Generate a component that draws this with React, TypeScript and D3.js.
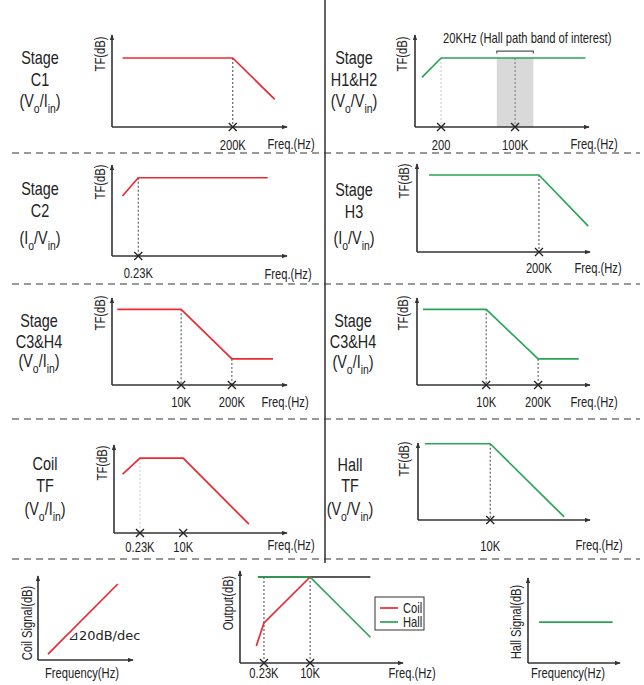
import React from 'react';
import * as d3 from 'd3';

// schematic units: x = position along the frequency axis (0-100), y = level (0-100)
const c1Freq = [6, 69, 93];
const c1Gain = [75, 75, 30];
const h12Freq = [4, 15, 98];
const h12Gain = [54, 75, 75];
const c2Freq = [6, 15, 89];
const c2Gain = [66, 86, 86];
const h3Freq = [7, 70.5, 99];
const h3Gain = [87.5, 87.5, 29.5];
const c3Freq = [3, 39.5, 68.5, 92];
const c3Gain = [87, 87, 30, 30];
const h4Freq = [3.5, 40, 70, 93.5];
const h4Gain = [87, 87, 30, 30];
const coilFreq = [5, 15, 40, 78];
const coilGain = [67, 85, 85, 10];
const hallFreq = [4, 42, 85];
const hallGain = [99, 99, 4];
const coilSigFreq = [10.5, 84];
const coilSigGain = [7, 90.5];
const outCoilFreq = [10, 14.7, 43];
const outCoilGain = [18.5, 43.5, 93.5];
const outHallFreq = [11, 43, 80];
const outHallGain = [93.5, 93.5, 28];
const outRefFreq = [11, 80];
const outRefGain = [93.5, 93.5];
const hallSigFreq = [12, 92];
const hallSigGain = [48, 48];

// tick marks (x) and their labels
const c1Ticks = [69];
const c1TickLabels = ['200K'];
const h12Ticks = [15, 57.5];
const h12TickLabels = ['200', '100K'];
const h12Band = [47, 68];
const c2Ticks = [15];
const c2TickLabels = ['0.23K'];
const h3Ticks = [70.5];
const h3TickLabels = ['200K'];
const c3Ticks = [39.5, 68.5];
const c3TickLabels = ['10K', '200K'];
const h4Ticks = [40, 70];
const h4TickLabels = ['10K', '200K'];
const coilTicks = [15, 40];
const coilTickLabels = ['0.23K', '10K'];
const hallTicks = [42];
const hallTickLabels = ['10K'];
const outTicks = [14.7, 43];
const outTickLabels = ['0.23K', '10K'];

// stage captions
const stageTitles = ['Stage', 'Stage', 'Stage', 'Stage', 'Stage', 'Stage', 'Coil', 'Hall'];
const stageNames = ['C1', 'H1&H2', 'C2', 'H3', 'C3&H4', 'C3&H4', 'TF', 'TF'];
const ratioNum = ['V', 'V', 'I', 'I', 'V', 'V', 'V', 'V'];
const ratioDen = ['I', 'V', 'V', 'V', 'I', 'I', 'I', 'V'];

const RED = '#ec2a32';
const GREEN = '#2aa556';
const AXIS = '#333';
const FONT = '"Liberation Sans", Arial, sans-serif';
const SQUEEZE = 0.8; // no narrow font installed, so squeeze Liberation Sans

type Series = { f: number[]; g: number[]; color: string };
type PanelDef = {
  x0: number; x1: number; y0: number; yT: number;
  series: Series[];
  ticks?: number[]; tickLabels?: string[]; guides?: string[];
  labelY?: number; freqX: number; freqY: number; freqLabel: string;
  yLabel: string; yLabelX: number; yLabelY: number;
};

const panels: PanelDef[] = [
  { x0: 112, x1: 287, y0: 127, yT: 35, series: [{ f: c1Freq, g: c1Gain, color: RED }],
    ticks: c1Ticks, tickLabels: c1TickLabels, guides: ['dash'], labelY: 145,
    freqX: 291, freqY: 144, freqLabel: 'Freq.(Hz)', yLabel: 'TF(dB)', yLabelX: 100, yLabelY: 54 },
  { x0: 415, x1: 589, y0: 127, yT: 35, series: [{ f: h12Freq, g: h12Gain, color: GREEN }],
    ticks: h12Ticks, tickLabels: h12TickLabels, guides: ['light', 'gray'], labelY: 145,
    freqX: 594, freqY: 144, freqLabel: 'Freq.(Hz)', yLabel: 'TF(dB)', yLabelX: 402, yLabelY: 54 },
  { x0: 112, x1: 287, y0: 256, yT: 165, series: [{ f: c2Freq, g: c2Gain, color: RED }],
    ticks: c2Ticks, tickLabels: c2TickLabels, guides: ['dash'], labelY: 273,
    freqX: 288, freqY: 274, freqLabel: 'Freq.(Hz)', yLabel: 'TF(dB)', yLabelX: 100, yLabelY: 182 },
  { x0: 417, x1: 590, y0: 252, yT: 164, series: [{ f: h3Freq, g: h3Gain, color: GREEN }],
    ticks: h3Ticks, tickLabels: h3TickLabels, guides: ['dash'], labelY: 268,
    freqX: 598, freqY: 268, freqLabel: 'Freq.(Hz)', yLabel: 'TF(dB)', yLabelX: 404, yLabelY: 181 },
  { x0: 112, x1: 287, y0: 385, yT: 298, series: [{ f: c3Freq, g: c3Gain, color: RED }],
    ticks: c3Ticks, tickLabels: c3TickLabels, guides: ['dash', 'dash'], labelY: 402,
    freqX: 285, freqY: 402, freqLabel: 'Freq.(Hz)', yLabel: 'TF(dB)', yLabelX: 100, yLabelY: 313 },
  { x0: 417, x1: 590, y0: 385, yT: 298, series: [{ f: h4Freq, g: h4Gain, color: GREEN }],
    ticks: h4Ticks, tickLabels: h4TickLabels, guides: ['dash', 'dash'], labelY: 402,
    freqX: 594, freqY: 402, freqLabel: 'Freq.(Hz)', yLabel: 'TF(dB)', yLabelX: 403, yLabelY: 313 },
  { x0: 114, x1: 287, y0: 533, yT: 445, series: [{ f: coilFreq, g: coilGain, color: RED }],
    ticks: coilTicks, tickLabels: coilTickLabels, guides: ['light', 'none'], labelY: 547,
    freqX: 291, freqY: 545, freqLabel: 'Freq.(Hz)', yLabel: 'TF(dB)', yLabelX: 102, yLabelY: 463 },
  { x0: 418, x1: 590, y0: 520, yT: 443, series: [{ f: hallFreq, g: hallGain, color: GREEN }],
    ticks: hallTicks, tickLabels: hallTickLabels, guides: ['dash'], labelY: 546,
    freqX: 599, freqY: 545, freqLabel: 'Freq.(Hz)', yLabel: 'TF(dB)', yLabelX: 404, yLabelY: 459 },
  { x0: 38, x1: 133, y0: 660, yT: 576, series: [{ f: coilSigFreq, g: coilSigGain, color: RED }],
    freqX: 82, freqY: 673, freqLabel: 'Frequency(Hz)', yLabel: 'Coil Signal(dB)', yLabelX: 27, yLabelY: 623 },
  { x0: 240, x1: 403, y0: 663, yT: 571,
    series: [{ f: outRefFreq, g: outRefGain, color: '#222' }, { f: outHallFreq, g: outHallGain, color: GREEN }, { f: outCoilFreq, g: outCoilGain, color: RED }],
    ticks: outTicks, tickLabels: outTickLabels, guides: ['dash', 'dash'], labelY: 673,
    freqX: 412, freqY: 673, freqLabel: 'Freq.(Hz)', yLabel: 'Output(dB)', yLabelX: 228, yLabelY: 603 },
  { x0: 528, x1: 620, y0: 663, yT: 578, series: [{ f: hallSigFreq, g: hallSigGain, color: GREEN }],
    freqX: 568, freqY: 673, freqLabel: 'Frequency(Hz)', yLabel: 'Hall Signal(dB)', yLabelX: 516, yLabelY: 622 },
];

// caption positions: x, title y, name y, ratio y
const stagePos = [
  [40, 58, 80, 101], [354, 58, 80, 101],
  [40, 189, 211, 238], [354, 190, 212, 238],
  [39, 321, 342, 361], [353, 321, 342, 362],
  [45, 464, 486, 509], [350, 465, 486, 509],
];

// condensed text helper
function NText({ x, y, size = 14, anchor = 'middle', rot = false, children }: any) {
  return (
    <text transform={`translate(${x},${y})${rot ? ' rotate(-90)' : ''} scale(${SQUEEZE},1)`} dy="0.35em"
      textAnchor={anchor} fontSize={size} fontFamily={FONT} fill="#222">{children}</text>
  );
}

function Panel({ p, idx }: { p: PanelDef; idx: number }) {
  const x = d3.scaleLinear().domain([0, 100]).range([p.x0, p.x1]);
  const y = d3.scaleLinear().domain([0, 100]).range([p.y0, p.yT]);
  const line = d3.line<number[]>().x(d => x(d[0])).y(d => y(d[1]));
  const main = p.series[p.series.length - 1];
  return (
    <g>
      {idx === 1 && (
        <g>
          <rect x={x(h12Band[0])} y={y(75)} width={x(h12Band[1]) - x(h12Band[0])} height={p.y0 - y(75)} fill="#d9d9d9" />
          <path d={`M${x(h12Band[0])},${y(80)}V${y(82.5)}H${x(h12Band[1])}V${y(80)}`} fill="none" stroke="#555" strokeWidth={1.2} />
          <NText x={443} y={38} anchor="start">20KHz (Hall path band of interest)</NText>
        </g>
      )}
      {(p.ticks || []).map((t, i) => {
        const s = p.series.find(s => s.color !== '#222' && t >= s.f[0] && t <= s.f[s.f.length - 1]) || main;
        const lvl = d3.scaleLinear().domain(s.f).range(s.g)(t);
        const kind = p.guides ? p.guides[i] : 'none';
        if (kind === 'none') return null;
        const stroke = kind === 'light' ? '#c8c8c8' : kind === 'gray' ? '#777' : '#444';
        return <line key={i} x1={x(t)} x2={x(t)} y1={y(lvl)} y2={p.y0} stroke={stroke} strokeWidth={1} strokeDasharray="2,2" />;
      })}
      {p.series.map((s, i) => (
        <path key={i} d={line(s.f.map((f, j) => [f, s.g[j]])) || ''} fill="none" stroke={s.color} strokeWidth={1.7} />
      ))}
      <line x1={p.x0} x2={p.x1} y1={p.y0} y2={p.y0} stroke={AXIS} strokeWidth={1.6} markerEnd="url(#arr)" />
      <line x1={p.x0} x2={p.x0} y1={p.y0} y2={p.yT} stroke={AXIS} strokeWidth={1.6} markerEnd="url(#arr)" />
      {(p.ticks || []).map((t, i) => (
        <g key={i}>
          <path d={`M${x(t) - 4},${p.y0 - 4}L${x(t) + 4},${p.y0 + 4}M${x(t) + 4},${p.y0 - 4}L${x(t) - 4},${p.y0 + 4}`} stroke="#222" strokeWidth={1.3} />
          <NText x={x(t)} y={p.labelY}>{p.tickLabels![i]}</NText>
        </g>
      ))}
      <NText x={p.freqX} y={p.freqY}>{p.freqLabel}</NText>
      <NText x={p.yLabelX} y={p.yLabelY} rot>{p.yLabel}</NText>
    </g>
  );
}

function Caption({ i }: { i: number }) {
  const [cx, ty, ny, ry] = stagePos[i];
  return (
    <g>
      <NText x={cx} y={ty} size={18}>{stageTitles[i]}</NText>
      <NText x={cx} y={ny} size={18}>{stageNames[i]}</NText>
      <NText x={cx} y={ry} size={18}>
        ({ratioNum[i]}<tspan fontSize={13} dy={6}>o</tspan><tspan dy={-6}>/{ratioDen[i]}</tspan><tspan fontSize={13} dy={6}>in</tspan><tspan dy={-6}>)</tspan>
      </NText>
    </g>
  );
}

export default function App() {
  const dividers = [153, 284, 419, 559];
  return (
    <svg width={644} height={685} style={{ position: 'absolute', left: 0, top: 0, background: '#fff' }}>
      <defs>
        <marker id="arr" viewBox="0 0 8 6" refX={7} refY={3} markerWidth={6} markerHeight={5} markerUnits="userSpaceOnUse" orient="auto">
          <path d="M0,0L8,3L0,6z" fill={AXIS} />
        </marker>
      </defs>
      <rect width={644} height={685} fill="#fff" />
      <line x1={325} x2={325} y1={0} y2={563} stroke="#222" strokeWidth={1.4} />
      {dividers.map(d => (
        <line key={d} x1={12} x2={640} y1={d} y2={d} stroke="#333" strokeWidth={1.2} strokeDasharray="7,5" />
      ))}
      {panels.map((p, i) => <Panel key={i} p={p} idx={i} />)}
      {stageTitles.map((_, i) => <Caption key={i} i={i} />)}
      {/* slope note on coil signal */}
      <text x={68} y={635} dy="0.35em" fontSize={13} fontFamily='"DejaVu Sans", sans-serif' fill="#222">⊿20dB/dec</text>
      {/* legend */}
      <rect x={375} y={597} width={49} height={33} fill="#fff" stroke="#333" strokeWidth={1} />
      <line x1={380} x2={398} y1={608} y2={608} stroke={RED} strokeWidth={1.7} />
      <NText x={403} y={608} anchor="start">Coil</NText>
      <line x1={380} x2={398} y1={622} y2={622} stroke={GREEN} strokeWidth={1.7} />
      <NText x={403} y={622} anchor="start">Hall</NText>
    </svg>
  );
}
